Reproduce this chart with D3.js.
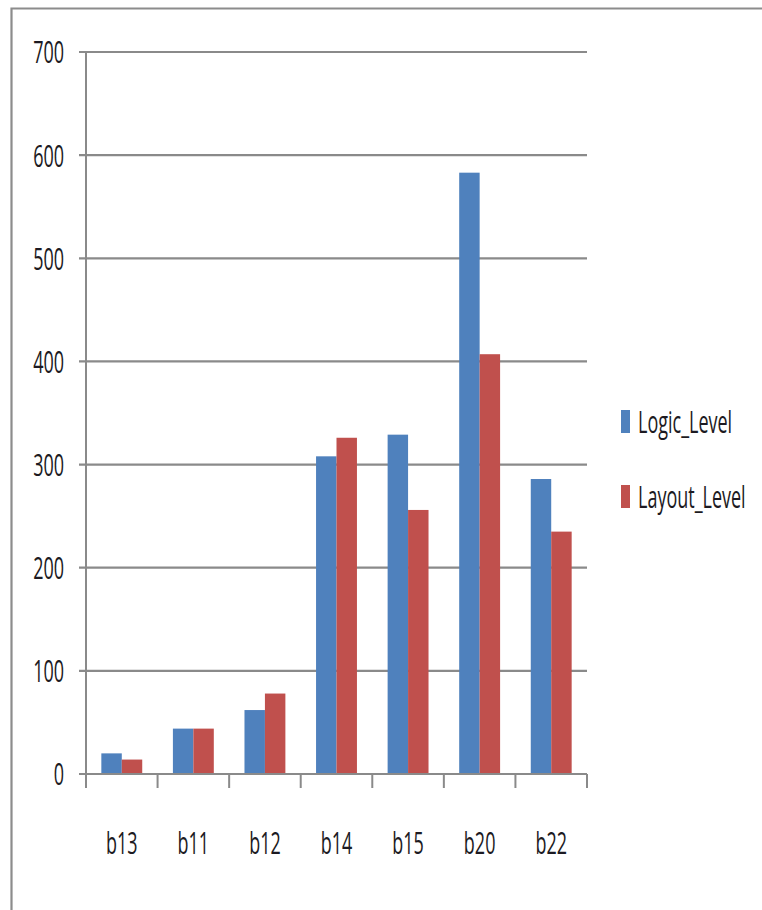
<!DOCTYPE html>
<html>
<head>
<meta charset="utf-8">
<script src="https://cdn.jsdelivr.net/npm/d3@7"></script>
<style>
  html, body { margin: 0; padding: 0; background: #fff; }
  svg { display: block; }
  text { font-family: "Open Sans", "Liberation Sans", sans-serif; fill: #1c1a22; }
</style>
</head>
<body>
<svg id="chart" width="762" height="910"></svg>
<script>
// Benchmark circuits along the category axis
const categories = ["b13", "b11", "b12", "b14", "b15", "b20", "b22"];
// Series names and values per circuit
const seriesNames = ["Logic_Level", "Layout_Level"];
const logicLevel = [20, 44, 62, 308, 329, 583, 286];
const layoutLevel = [14, 44, 78, 326, 256, 407, 235];
const seriesColors = ["#4f81bd", "#c0504d"];
// Value axis ticks
const yTicks = [0, 100, 200, 300, 400, 500, 600, 700];

const seriesValues = [logicLevel, layoutLevel];
const table = categories.map((c, i) => ({
  cat: c,
  vals: seriesNames.map((s, j) => ({ series: s, value: seriesValues[j][i], color: seriesColors[j] }))
}));

const svg = d3.select("#chart");
const stretch = 1.77; // vertical stretch applied to all labels

const plot = { left: 86, right: 587, top: 52, bottom: 774 };

const x = d3.scaleBand().domain(categories).range([plot.left, plot.right]).paddingInner(0).paddingOuter(0);
// gap width 150% of a bar: 0.75 bar each side
const bw = x.bandwidth() / 3.5;
const xs = d3.scaleBand().domain(seriesNames).range([0.75 * bw, 2.75 * bw]).padding(0);
const y = d3.scaleLinear().domain([0, 700]).range([plot.bottom, plot.top]);

// outer chart frame (continues past the right and bottom edges)
svg.append("path")
  .attr("d", "M11.5,915 V8.5 H770")
  .attr("fill", "none")
  .attr("stroke", "#8c8c8c")
  .attr("stroke-width", 2.2);

// horizontal gridlines with short outward ticks
svg.append("g").selectAll("line").data(yTicks).join("line")
  .attr("x1", plot.left - 7).attr("x2", plot.right)
  .attr("y1", d => y(d)).attr("y2", d => y(d))
  .attr("stroke", "#8a8a8a").attr("stroke-width", 2.2);

// value labels
svg.append("g").selectAll("text").data(yTicks).join("text")
  .attr("transform", d => `translate(64,${y(d)}) scale(1,${stretch})`)
  .attr("text-anchor", "end")
  .attr("dy", "0.36em")
  .attr("font-size", 18)
  .text(d => d);

// bars
const groups = svg.append("g").selectAll("g").data(table).join("g")
  .attr("transform", d => `translate(${x(d.cat)},0)`);
groups.selectAll("rect").data(d => d.vals).join("rect")
  .attr("x", d => xs(d.series))
  .attr("width", xs.bandwidth())
  .attr("y", d => y(d.value))
  .attr("height", d => y(0) - y(d.value))
  .attr("fill", d => d.color);

// category axis line and boundary ticks
svg.append("line")
  .attr("x1", plot.left - 7).attr("x2", plot.right)
  .attr("y1", y(0)).attr("y2", y(0))
  .attr("stroke", "#8a8a8a").attr("stroke-width", 2.2);
const bounds = categories.map(c => x(c)).concat([plot.right]);
svg.append("g").selectAll("line").data(bounds).join("line")
  .attr("x1", d => d).attr("x2", d => d)
  .attr("y1", y(0)).attr("y2", y(0) + 14)
  .attr("stroke", "#8a8a8a").attr("stroke-width", 2);

// value axis line
svg.append("line")
  .attr("x1", plot.left).attr("x2", plot.left)
  .attr("y1", plot.top).attr("y2", y(0) + 14)
  .attr("stroke", "#8a8a8a").attr("stroke-width", 2);

// category labels
svg.append("g").selectAll("text").data(categories).join("text")
  .attr("transform", d => `translate(${x(d) + x.bandwidth() / 2},854) scale(1,${stretch})`)
  .attr("text-anchor", "middle")
  .attr("font-size", 18)
  .text(d => d);

// legend
const legendY = [433, 508];
const legend = svg.append("g").selectAll("g").data(seriesNames).join("g");
legend.append("rect")
  .attr("x", 621).attr("y", (d, i) => legendY[i] - 23)
  .attr("width", 9).attr("height", 23)
  .attr("fill", (d, i) => seriesColors[i]);
legend.append("text")
  .attr("transform", (d, i) => `translate(638,${legendY[i]}) scale(1,${stretch})`)
  .attr("font-size", 18)
  .text(d => d);
</script>
</body>
</html>
